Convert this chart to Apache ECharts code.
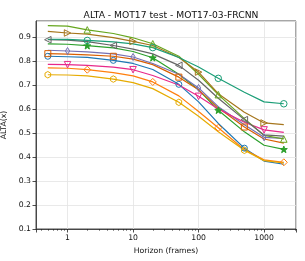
<!DOCTYPE html>
<html><head><meta charset="utf-8">
<script src="https://cdn.jsdelivr.net/npm/echarts@6/dist/echarts.min.js"></script>
<style>html,body{margin:0;padding:0;background:#fff}#c{width:305px;height:261px}</style>
</head><body><div id="c"></div>
<script>
// Horizons (frames)
const horizons = [0.5, 1, 2, 5, 10, 20, 50, 100, 200, 500, 1000, 2000];
const xTicks = [1, 10, 100, 1000];
const yTicks = [0.1, 0.2, 0.3, 0.4, 0.5, 0.6, 0.7, 0.8, 0.9];

// ALTA(x) values per tracker (line)
const lineGreen  = [0.948, 0.946, 0.930, 0.915, 0.897, 0.872, 0.820, 0.745, 0.660, 0.560, 0.490, 0.475];
const lineBrown  = [0.924, 0.917, 0.912, 0.898, 0.882, 0.865, 0.815, 0.754, 0.664, 0.587, 0.542, 0.535];
const lineGray   = [0.889, 0.887, 0.881, 0.865, 0.850, 0.830, 0.782, 0.720, 0.645, 0.556, 0.492, 0.487];
const lineTeal   = [0.891, 0.890, 0.886, 0.880, 0.872, 0.856, 0.815, 0.775, 0.728, 0.670, 0.630, 0.622];
const lineTabGreen = [0.872, 0.870, 0.864, 0.855, 0.840, 0.814, 0.745, 0.680, 0.595, 0.505, 0.449, 0.432];
const linePurple = [0.845, 0.842, 0.838, 0.830, 0.817, 0.790, 0.745, 0.688, 0.610, 0.535, 0.482, 0.478];
const lineOrange = [0.831, 0.829, 0.826, 0.820, 0.808, 0.785, 0.733, 0.680, 0.605, 0.525, 0.475, 0.458];
const lineBlue   = [0.820, 0.818, 0.815, 0.803, 0.790, 0.765, 0.703, 0.630, 0.540, 0.437, 0.383, 0.370];
const linePink   = [0.786, 0.785, 0.782, 0.775, 0.764, 0.740, 0.700, 0.653, 0.600, 0.545, 0.513, 0.503];
const lineTabOrange = [0.772, 0.770, 0.764, 0.752, 0.738, 0.713, 0.655, 0.590, 0.522, 0.430, 0.388, 0.378];
const lineYellow = [0.743, 0.742, 0.738, 0.725, 0.710, 0.685, 0.628, 0.570, 0.505, 0.428, 0.385, 0.375];

const STAR = 'path://M0,-10L2.35,-3.24L9.51,-3.09L3.8,1.24L5.88,8.09L0,4L-5.88,8.09L-3.8,1.24L-9.51,-3.09L-2.35,-3.24Z';
const HEX = 'path://M0,-10L8.66,-5L8.66,5L0,10L-8.66,5L-8.66,-5Z';
const THIN_D = 'path://M0,-10L6,0L0,10L-6,0Z';

const defs = [
  {name:'A', data:lineBlue, color:'#1f77b4', symbol:'circle', rot:0, off:0, size:6},
  {name:'B', data:lineTabOrange, color:'#ff7f0e', symbol:'diamond', rot:0, off:2, size:7},
  {name:'C', data:lineTabGreen, color:'#2ca02c', symbol:STAR, rot:0, off:2, size:7, filled:true},
  {name:'D', data:lineYellow, color:'#e6ab02', symbol:HEX, rot:0, off:0, size:6.5},
  {name:'E', data:lineOrange, color:'#d95f02', symbol:'rect', rot:0, off:0, size:6},
  {name:'F', data:linePurple, color:'#7570b3', symbol:THIN_D, rot:0, off:1, size:7},
  {name:'G', data:linePink, color:'#e7298a', symbol:'triangle', rot:180, off:1, size:6.5},
  {name:'H', data:lineGreen, color:'#66a61e', symbol:'triangle', rot:0, off:2, size:6.5},
  {name:'I', data:lineBrown, color:'#a6761d', symbol:'triangle', rot:-90, off:1, size:6.5},
  {name:'J', data:lineGray, color:'#666666', symbol:'triangle', rot:90, off:0, size:6.5},
  {name:'K', data:lineTeal, color:'#1b9e77', symbol:'circle', rot:0, off:2, size:6.5}
];

const chart = echarts.init(document.getElementById('c'), null, {renderer:'canvas'});
const font = 'DejaVu Sans';
chart.setOption({
  animation: false,
  backgroundColor: '#fff',
  title: {
    text: 'ALTA - MOT17 test - MOT17-03-FRCNN',
    left: 166, top: 6, textAlign: 'center',
    textStyle: {fontFamily: font, fontSize: 9.2, fontWeight: 'normal', color: '#111'}
  },
  grid: {left: 36, right: 9, top: 21, bottom: 32, show: true, borderColor: '#222', borderWidth: 0.8,
    backgroundColor: 'transparent', containLabel: false, outerBoundsMode: 'none'},
  xAxis: {
    type: 'log', logBase: 10, min: 0.33, max: 3070,
    name: 'Horizon (frames)', nameLocation: 'middle', nameGap: 15,
    nameTextStyle: {fontFamily: font, fontSize: 7.7, color: '#111'},
    axisLine: {show: true, lineStyle: {color: '#222', width: 0.8}},
    axisTick: {show: true, length: 3.5, inside: false, lineStyle: {color: '#222', width: 0.8}},
    minorTick: {show: true, splitNumber: 9, length: 1.8, lineStyle: {color: '#222', width: 0.6}},
    axisLabel: {fontFamily: font, fontSize: 7.7, color: '#111', margin: 5, showMinLabel: false, showMaxLabel: false,
      formatter: v => xTicks.includes(Math.round(v)) ? String(Math.round(v)) : ''},
    splitLine: {show: true, lineStyle: {color: '#e3e3e3', width: 0.8}}
  },
  yAxis: {
    type: 'value', min: 0.1, max: 0.967, interval: 0.1,
    name: 'ALTA(x)', nameLocation: 'middle', nameGap: 20,
    nameTextStyle: {fontFamily: font, fontSize: 7.7, color: '#111'},
    axisLine: {show: true, lineStyle: {color: '#222', width: 0.8}},
    axisTick: {show: true, length: 3.5, lineStyle: {color: '#222', width: 0.8}},
    axisLabel: {fontFamily: font, fontSize: 7.7, color: '#111', margin: 5, showMaxLabel: false,
      formatter: v => v.toFixed(1)},
    splitLine: {show: true, lineStyle: {color: '#e3e3e3', width: 0.8}}
  },
  series: defs.map(d => ({
    name: d.name,
    type: 'line',
    data: horizons.map((h, i) => [h, d.data[i]]),
    showAllSymbol: true,
    symbol: d.symbol,
    symbolRotate: d.rot,
    symbolKeepAspect: true,
    symbolSize: (v, p) => (p.dataIndex % 3 === d.off ? d.size : 0),
    lineStyle: {color: d.color, width: 1.2},
    itemStyle: {color: d.filled ? d.color : 'rgba(255,255,255,0)', borderColor: d.color, borderWidth: 1},
    emphasis: {disabled: true}
  }))
});
</script>
</body></html>
